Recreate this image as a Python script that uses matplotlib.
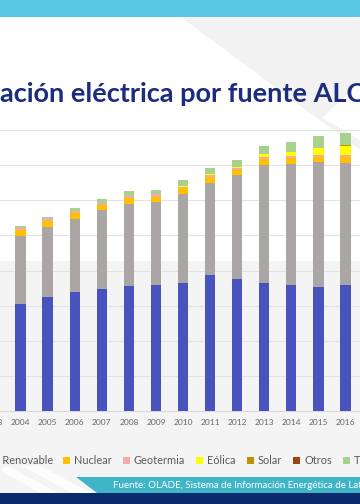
import matplotlib
matplotlib.use("Agg")
import matplotlib.pyplot as plt
from matplotlib.patches import Polygon, Rectangle

# ---------------- data (TWh) ----------------
years = [2003, 2004, 2005, 2006, 2007, 2008, 2009, 2010, 2011, 2012, 2013, 2014, 2015, 2016]
hidro            = [585, 608, 648, 676, 697, 712, 720, 731, 773, 754, 727, 720, 705, 720]
termica_no_renov = [370, 391, 402, 418, 446, 469, 469, 507, 524, 587, 676, 689, 710, 691]
nuclear          = [33, 32, 33, 32, 29, 31, 32, 31, 35, 32, 33, 34, 34, 36]
geotermia        = [12, 12, 11, 14, 13, 11, 12, 9, 11, 8, 10, 10, 10, 12]
eolica           = [1, 1, 1, 1, 2, 2, 3, 4, 5, 9, 15, 21, 36, 50]
solar            = [0, 0, 0, 0, 0, 0, 0, 0, 0, 0, 0.5, 1, 2, 4]
otros            = [0, 0, 0, 0, 0, 0, 0, 0, 0, 0, 0, 0, 0, 0]
termica_renov    = [10, 10, 12, 14, 21, 25, 25, 34, 33, 42, 48, 59, 66, 70]

series_names = ["Hidro", "Térmica No Renovable", "Nuclear", "Geotermia",
                "Eólica", "Solar", "Otros", "Térmica Renovable"]
series_vals = [hidro, termica_no_renov, nuclear, geotermia, eolica, solar, otros, termica_renov]
colors = ["#4953BE", "#AAA6A6", "#FFC000", "#F5A9A9", "#FFFF00", "#BF9000", "#A5410E", "#A9D18E"]

title = "Generación eléctrica por fuente ALC"
source = "Fuente: OLADE, Sistema de Información Energética de Latinoamérica y el Caribe (sieLAC)"

W, H = 360, 504
fig = plt.figure(figsize=(W / 100, H / 100), dpi=100)
renderer = fig.canvas.get_renderer()

# background axes in pixel coordinates
bg = fig.add_axes([0, 0, 1, 1], zorder=0)
bg.set_xlim(0, W)
bg.set_ylim(H, 0)
bg.axis("off")

bg.add_patch(Rectangle((0, 0), W, 17.3, color="#5BC8E3", lw=0))
bg.add_patch(Polygon([(182, 18), (360, 18), (360, 82), (322, 118), (360, 140), (360, 150)],
                     closed=True, color="#F2F2F2", lw=0))
bg.add_patch(Rectangle((0, 261), W, 232, color="#F4F4F4", lw=0))
# faint white diagonal stripes bottom-left
bg.add_patch(Polygon([(0, 470), (8, 466), (58, 493), (40, 493)], closed=True, color="white", lw=0, alpha=0.9))
bg.add_patch(Polygon([(22, 466), (40, 466), (92, 493), (72, 493)], closed=True, color="white", lw=0, alpha=0.9))
# footer
bg.add_patch(Polygon([(76, 476.5), (360, 476.5), (360, 493.3), (97, 493.3)], closed=True, color="#40B5C8", lw=0))
bg.add_patch(Rectangle((0, 493.3), W, 11, color="#0C2B6E", lw=0))


def width_px(s, **kw):
    t = bg.text(0, 0, s, **kw)
    w = t.get_window_extent(renderer).width
    t.remove()
    return w


# title: "ación" starts at x≈0, "AL" ends ≈347
tfont = dict(family="Lato", weight="bold")
ref = "ación eléctrica por fuente AL"
ts = 20 * 347 / width_px(ref, fontsize=20, **tfont)
pre = width_px("Gener", fontsize=ts, **tfont)
bg.text(0.5 - pre, 102, title, fontsize=ts, color="#1B2D7C", va="baseline", ha="left", **tfont)

# footer text
ffont = dict(family="Lato")
fref = "Fuente: OLADE, Sistema de Información Energética de La"
fs = 8 * 247 / width_px(fref, fontsize=8, **ffont)
bg.text(112.7, 485.5, source, fontsize=fs, color="white", va="center", ha="left", **ffont)

# ---------------- chart ----------------
spacing = 27.05
x0 = -6.35  # pixel centre of first category
ax = fig.add_axes([0, (H - 411) / H, 1, 281 / H], zorder=1)
ax.set_facecolor("none")

xs = list(range(len(years)))
bottom = [0.0] * len(years)
for name, vals, c in zip(series_names, series_vals, colors):
    ax.bar(xs, vals, width=0.39, bottom=bottom, color=c, label=name, zorder=3, lw=0)
    bottom = [b + v for b, v in zip(bottom, vals)]

tick_kw = dict(fontsize=6, color="#666666", family="Lato")
ax.set_yticks(range(0, 1601, 200))
ax.yaxis.grid(True, color="#E2E2E2", lw=0.8, zorder=0)
ax.tick_params(axis="y", left=False, labelleft=False)
ax.set_xticks(xs)
ax.set_xticklabels([str(y) for y in years], **tick_kw)
ax.tick_params(axis="x", length=0, pad=5.5)
for s in ["left", "right", "top"]:
    ax.spines[s].set_visible(False)
ax.spines["bottom"].set_color("#D9D9D9")
ax.spines["bottom"].set_linewidth(0.8)
# limits last (set_xticks may expand them)
ax.set_xlim(-x0 / spacing, (W - x0) / spacing)
ax.set_ylim(0, 1600)
# first category label lies partly outside the view; draw it explicitly
ax.annotate(str(years[0]), xy=(xs[0], 0), xycoords=ax.get_xaxis_transform(),
            xytext=(0, -5.5), textcoords="offset points", ha="center", va="top",
            annotation_clip=False, **tick_kw)

# ---------------- legend (manual, pixel layout) ----------------
lfont = dict(family="Lato")
lsize = 8 * 38 / width_px("Nuclear", fontsize=8, **lfont)
msize, mgap, igap = 7, 4, 11
ly = 460
start = series_names.index("Nuclear")
x = 63
for i in range(start, len(series_names)):
    bg.add_patch(Rectangle((x, ly - msize / 2), msize, msize, color=colors[i], lw=0))
    bg.text(x + msize + mgap, ly, series_names[i], fontsize=lsize, color="#595959",
            va="center", ha="left", **lfont)
    x = x + msize + mgap + width_px(series_names[i], fontsize=lsize, **lfont) + igap
x_end = 53
for i in range(start - 1, -1, -1):
    wtxt = width_px(series_names[i], fontsize=lsize, **lfont)
    bg.text(x_end, ly, series_names[i], fontsize=lsize, color="#595959",
            va="center", ha="right", **lfont)
    mx = x_end - wtxt - mgap - msize
    bg.add_patch(Rectangle((mx, ly - msize / 2), msize, msize, color=colors[i], lw=0))
    x_end = mx - igap

fig.savefig("out.png", dpi=100)
